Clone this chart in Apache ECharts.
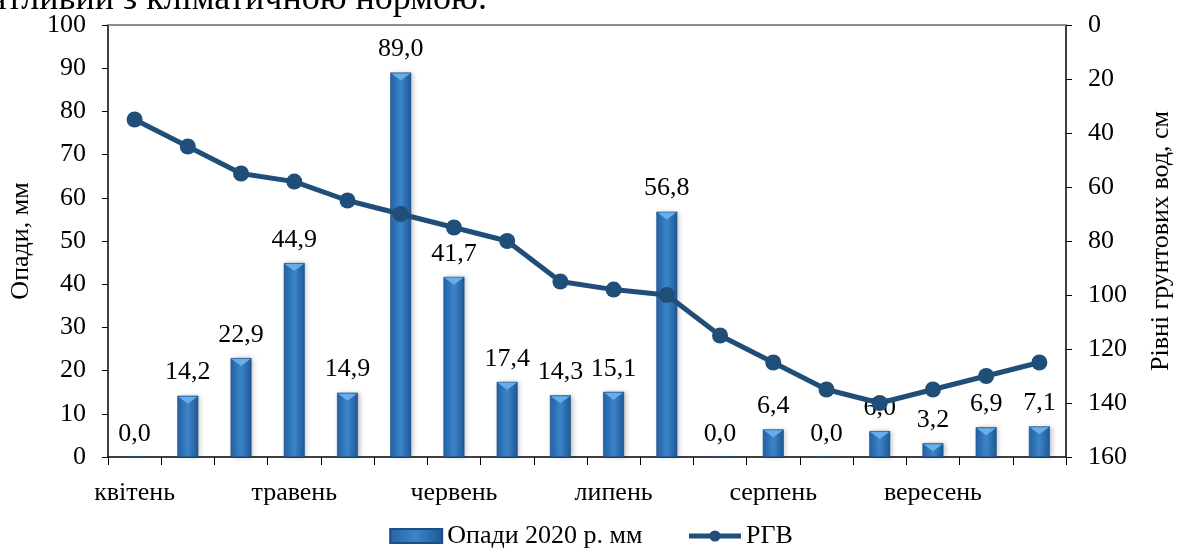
<!DOCTYPE html>
<html>
<head>
<meta charset="utf-8">
<script src="https://cdn.jsdelivr.net/npm/echarts@6/dist/echarts.min.js"></script>
<style>
  html, body { margin: 0; padding: 0; background: #fff; }
  #chart { width: 1182px; height: 551px; }
</style>
</head>
<body>
<div id="chart"></div>
<script>
// Decade periods, April–September 2020
const categories = [
  'квітень', '', '', 'травень', '', '', 'червень', '', '', 'липень', '', '',
  'серпень', '', '', 'вересень', '', ''
];
// Precipitation per period, mm
const precipitation = [0.0, 14.2, 22.9, 44.9, 14.9, 89.0, 41.7, 17.4, 14.3, 15.1, 56.8, 0.0, 6.4, 0.0, 6.0, 3.2, 6.9, 7.1];
// Groundwater depth, cm
const groundwater = [35, 45, 55, 58, 65, 70, 75, 80, 95, 98, 100, 115, 125, 135, 140, 135, 130, 125];
const leftTicks = { min: 0, max: 100, interval: 10 };
const rightTicks = { min: 0, max: 160, interval: 20 };

const FONT = '"Liberation Serif", "Times New Roman", serif';
const FS = 26;
const fmt = v => Number(v).toFixed(1).replace('.', ',');

const barGradient = new echarts.graphic.LinearGradient(0, 0, 1, 0, [
  { offset: 0, color: '#2463A6' },
  { offset: 0.5, color: '#3C84CA' },
  { offset: 1, color: '#1E5895' }
]);

const chart = echarts.init(document.getElementById('chart'), null, { renderer: 'canvas' });
chart.setOption({
  animation: false,
  textStyle: { fontFamily: FONT, color: '#000' },
  graphic: [{
    type: 'text',
    x: 487,
    y: 0,
    style: {
      text: 'сприятливий з кліматичною нормою.',
      font: '36px ' + FONT,
      fill: '#000',
      align: 'right',
      verticalAlign: 'middle'
    }
  }],
  grid: { left: 107, right: 107, top: 25, bottom: 94, containLabel: false },
  legend: {
    bottom: -3,
    left: 'center',
    itemGap: 44,
    textStyle: { fontFamily: FONT, fontSize: FS, color: '#000' },
    data: [
      { name: 'Опади 2020 р. мм', icon: 'rect', itemStyle: { color: barGradient } },
      { name: 'РГВ', lineStyle: { width: 5 } }
    ],
    itemWidth: 52,
    itemHeight: 14
  },
  xAxis: [{
    type: 'category',
    data: categories,
    boundaryGap: true,
    axisLine: { lineStyle: { color: '#000', width: 1.5 } },
    axisTick: { show: true, interval: 0, length: 8, lineStyle: { color: '#000' } },
    axisLabel: { interval: 0, fontFamily: FONT, fontSize: FS, color: '#000', margin: 23 }
  }, {
    type: 'category',
    data: categories,
    position: 'top',
    axisLine: { lineStyle: { color: '#8c8c8c', width: 2 } },
    axisTick: { show: false },
    axisLabel: { show: false }
  }],
  yAxis: [{
    type: 'value',
    min: leftTicks.min, max: leftTicks.max, interval: leftTicks.interval,
    name: 'Опади, мм',
    nameLocation: 'middle',
    nameGap: 74,
    nameTextStyle: { fontFamily: FONT, fontSize: FS, color: '#000' },
    axisLine: { show: true, lineStyle: { color: '#000', width: 1.5 } },
    axisTick: { show: true, length: 6, lineStyle: { color: '#000' } },
    axisLabel: { fontFamily: FONT, fontSize: FS, color: '#000', margin: 22 },
    splitLine: { show: false }
  }, {
    type: 'value',
    inverse: true,
    min: rightTicks.min, max: rightTicks.max, interval: rightTicks.interval,
    name: 'Рівні грунтових вод, см',
    nameLocation: 'middle',
    nameGap: 82,
    nameRotate: 90,
    nameTextStyle: { fontFamily: FONT, fontSize: FS, color: '#000' },
    axisLine: { show: true, lineStyle: { color: '#000', width: 1.5 } },
    axisTick: { show: true, length: 6, lineStyle: { color: '#000' } },
    axisLabel: { fontFamily: FONT, fontSize: FS, color: '#000', margin: 22 },
    splitLine: { show: false }
  }],
  series: [{
    name: 'Опади 2020 р. мм',
    type: 'bar',
    data: precipitation,
    barWidth: 21,
    itemStyle: {
      color: barGradient,
      borderColor: '#1D4F86',
      borderWidth: 0.6,
      shadowBlur: 5,
      shadowColor: 'rgba(0,0,0,0.22)',
      shadowOffsetX: 2
    },
    label: {
      show: true,
      position: 'top',
      distance: 10,
      formatter: p => fmt(p.value),
      fontFamily: FONT,
      fontSize: FS,
      color: '#000'
    },
    z: 2
  }, {
    // lighter bevel at the top of each bar
    name: 'cap',
    type: 'pictorialBar',
    data: precipitation.map(v => (v > 0 ? v : '-')),
    symbol: 'path://M0,0 L20,0 L10,8 Z',
    symbolSize: [19, 7],
    symbolPosition: 'end',
    symbolOffset: [0, 1],
    barGap: '-100%',
    itemStyle: { color: '#66AEEA' },
    legendHoverLink: false,
    silent: true,
    z: 3
  }, {
    name: 'РГВ',
    type: 'line',
    yAxisIndex: 1,
    data: groundwater,
    symbol: 'circle',
    symbolSize: 16,
    lineStyle: { color: '#1F4E79', width: 5 },
    itemStyle: { color: '#1F4E79' },
    z: 4
  }]
});
</script>
</body>
</html>
